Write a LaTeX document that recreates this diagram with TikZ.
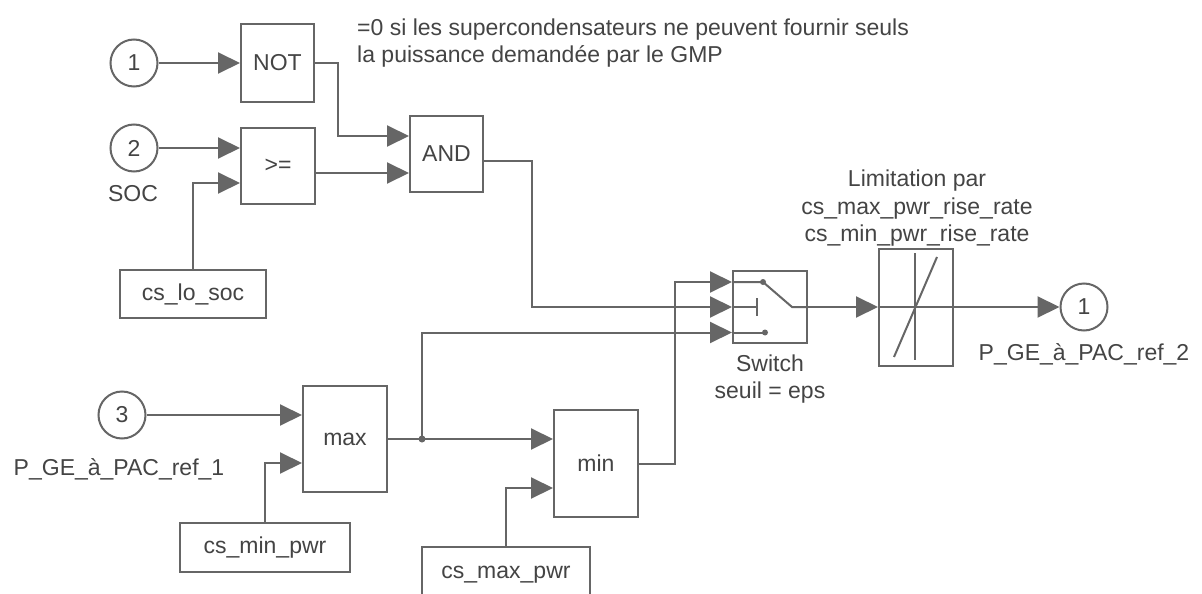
\documentclass[tikz,border=0pt]{standalone}
\usepackage{fontspec}
\setmainfont{Liberation Sans}
\usetikzlibrary{arrows.meta}
\definecolor{ln}{HTML}{666666}
\definecolor{tx}{HTML}{444444}
\begin{document}
\begin{tikzpicture}[x=1pt,y=-1pt,
  font=\fontsize{23}{27}\selectfont,
  blk/.style={draw=ln, line width=2pt, inner sep=0pt, text=tx},
  port/.style={draw=ln, line width=2pt, circle, minimum size=47pt, inner sep=0pt, text=tx},
  wire/.style={draw=ln, line width=2pt},
  arr/.style={wire, -{Triangle[length=22pt,width=21pt,fill=ln]}},
  lbl/.style={text=tx, inner sep=0pt},
  dotj/.style={fill=ln, draw=none}]
\useasboundingbox (0,0) rectangle (1202,594);
\clip (0,0) rectangle (1202,594);
\fill[white] (0,0) rectangle (1202,594);

% ports
\node[port] (in1) at (134,63) {1};
\node[port] (in2) at (134,148) {2};
\node[port] (in3) at (122,415) {3};
\node[port] (out1) at (1084,307) {1};
\node[lbl, anchor=base] (soc) at (133,201) {SOC};
\node[lbl, anchor=base] (pin) at (119,475) {P\_GE\_à\_PAC\_ref\_1};
\node[lbl, anchor=base] (pout) at (1084,360) {P\_GE\_à\_PAC\_ref\_2};

% blocks
\node[blk, minimum width=73pt, minimum height=78pt] (not) at (277.5,63) {NOT};
\node[blk, minimum width=74pt, minimum height=76pt] (ge) at (278,166) {>=};
\node[blk, minimum width=73pt, minimum height=76pt] (and) at (446.5,154) {AND};
\node[blk, minimum width=146pt, minimum height=48pt] (lo) at (193,294) {cs\_lo\_soc};
\node[blk, minimum width=84pt, minimum height=106pt] (max) at (345,439) {max};
\node[blk, minimum width=170pt, minimum height=49pt] (cmin) at (265,547.5) {cs\_min\_pwr};
\node[blk, minimum width=84pt, minimum height=107pt] (min) at (596,463.5) {min};
\node[blk, minimum width=168pt, minimum height=58pt] (cmax) at (506,576) {};
\node[lbl] (cmaxt) at (506,575) {cs\_max\_pwr};
\node[blk, minimum width=74pt, minimum height=72pt] (sw) at (770,307) {};
\node[blk, minimum width=74pt, minimum height=117pt] (lim) at (916,307) {};

% texts
\node[lbl, anchor=base west] (note1) at (357,36) {=0 si les supercondensateurs ne peuvent fournir seuls};
\node[lbl, anchor=base west] (note2) at (357,63) {la puissance demandée par le GMP};
\node[lbl, anchor=base] (l1) at (917,186) {Limitation par};
\node[lbl, anchor=base] (l2) at (917,214) {cs\_max\_pwr\_rise\_rate};
\node[lbl, anchor=base] (l3) at (917,241) {cs\_min\_pwr\_rise\_rate};
\node[lbl, anchor=base] (s1) at (770,371) {Switch};
\node[lbl, anchor=base] (s2) at (770,398) {seuil = eps};

% switch symbol
\draw[wire] ([yshift=25pt]sw.west) -- (763,282) -- (792,307) -- (sw.east);
\fill[dotj] (763,282) circle (3pt);
\draw[wire] (sw.west) -- (757,307);
\draw[wire] (757,298) -- (757,316);
\draw[wire] ([yshift=-25.5pt]sw.west) -- (765,332.5);
\fill[dotj] (765,332.5) circle (3pt);

% rate limiter symbol
\draw[wire] (lim.west) -- (lim.east);
\draw[wire] (915,253) -- (915,360);
\draw[wire] (894,357) -- (937,257);

% connectors
\draw[arr] (in1.east) -- (not.west);
\draw[arr] (not.east) -- ++(23,0) |- ([yshift=18pt]and.west);
\draw[arr] (in2.east) -- ([yshift=18pt]ge.west);
\draw[arr] (lo.north) |- ([yshift=-17pt]ge.west);
\draw[arr] ([yshift=-7pt]ge.east) -- ([yshift=-19pt]and.west);
\draw[arr] ([yshift=-7pt]and.east) -- ++(48,0) |- (sw.west);
\draw[arr] (in3.east) -- ([yshift=24pt]max.west);
\draw[arr] (cmin.north) |- ([yshift=-24pt]max.west);
\draw[arr] (max.east) -- ([yshift=24.5pt]min.west);
\coordinate (br) at (422,439);
\draw[arr] (br) |- ([yshift=-25.5pt]sw.west);
\fill[dotj] (br) circle (3.5pt);
\draw[arr] (cmax.north) |- ([yshift=-24.5pt]min.west);
\draw[arr] (min.east) -- ++(36,0) |- ([yshift=25pt]sw.west);
\draw[arr] (sw.east) -- (lim.west);
\draw[arr] (lim.east) -- (out1.west);
\end{tikzpicture}
\end{document}
